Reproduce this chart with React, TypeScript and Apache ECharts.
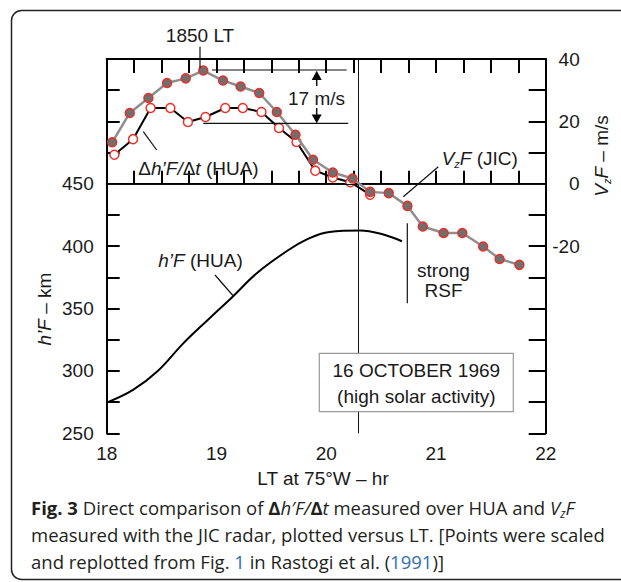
import React, { useEffect, useRef } from 'react';
import * as echarts from 'echarts';

// LT (hr) and V_zF (m/s) measured with the JIC radar
const jicTime = [18.05, 18.21, 18.38, 18.55, 18.72, 18.88, 19.06, 19.22, 19.39, 19.55, 19.72, 19.88, 20.06, 20.24, 20.40, 20.57, 20.74, 20.88, 21.07, 21.24, 21.43, 21.58, 21.76];
const jicVz = [13.3, 22.7, 27.5, 32.3, 33.8, 36.3, 33.1, 31.2, 29.1, 23.0, 15.7, 7.7, 3.6, 1.7, -2.6, -3.0, -7.1, -13.7, -15.8, -15.8, -20.1, -24.1, -26.0];
// LT (hr) and Δh'F/Δt (m/s) over HUA
const huaTime = [18.07, 18.24, 18.40, 18.58, 18.74, 18.90, 19.08, 19.24, 19.41, 19.57, 19.73, 19.90, 20.06, 20.22, 20.40];
const huaDhdt = [9.3, 14.3, 24.3, 24.3, 19.8, 21.4, 24.3, 24.3, 23.0, 17.9, 13.4, 4.2, 2.0, 0.5, -3.5];
// LT (hr) and h'F (km) over HUA
const hfTime = [18.0, 18.24, 18.46, 18.70, 18.94, 19.15, 19.37, 19.64, 19.82, 20.03, 20.31, 20.52, 20.69];
const hfKm = [274.6, 284.8, 299.5, 322.3, 342.4, 359.7, 378.5, 395.9, 405.3, 411.4, 412.5, 409.3, 403.9];

const xTickLabels = [18, 19, 20, 21, 22];
const leftTickLabels = [250, 300, 350, 400, 450];
const rightTickLabels = [-20, 0, 20, 40];
const refTime = 20.29;
const refVz = 0;

const FONT = 'Liberation Sans, Arial, sans-serif';
const CAP = 'Open Sans, Noto Sans, sans-serif';
const FS = 19;
const CFS = 18.5;

function zipXY(xs: number[], ys: number[]) {
  return xs.map((x, i) => [x, ys[i]]);
}

export default function App() {
  const ref = useRef<HTMLDivElement>(null);
  useEffect(() => {
    if (!ref.current) return;
    const chart = echarts.init(ref.current, undefined, { renderer: 'svg' });
    const axisLineStyle = { color: '#000', width: 2 };
    const tickStyle = { color: '#000', width: 2 };
    const lbl = { color: '#1a1a1a', fontSize: FS, fontFamily: FONT };
    const txt = (x: number, y: number, text: string, extra: any = {}) => ({
      type: 'text', x, y, z: 60,
      style: { text, fontSize: FS, fontFamily: FONT, fill: '#1a1a1a', align: 'center', verticalAlign: 'middle', ...extra },
    });
    const ln = (x1: number, y1: number, x2: number, y2: number, w = 1.2) => ({
      type: 'line', z: 60, shape: { x1, y1, x2, y2 }, style: { stroke: '#111', lineWidth: w },
    });
    const r = (size: number, extra: any = {}) => ({ fontSize: size, fontFamily: FONT, fill: '#1a1a1a', ...extra });
    const c = (size: number, extra: any = {}) => ({ fontSize: size, fontFamily: CAP, fill: '#231f20', lineHeight: 24, ...extra });
    const capRich = {
      n: c(CFS),
      b: c(CFS, { fontWeight: 'bold' }),
      i: c(CFS, { fontStyle: 'italic' }),
      s: c(12, { fontStyle: 'italic', verticalAlign: 'bottom', lineHeight: 17 }),
      l: c(CFS, { fill: '#2f6fb5' }),
    };

    chart.setOption({
      animation: false,
      grid: { left: 106.7, right: 75.3, top: 59, bottom: 148.7, containLabel: false },
      xAxis: [
        {
          type: 'value', min: 18, max: 22, interval: 0.25, position: 'bottom',
          axisLine: { lineStyle: axisLineStyle },
          axisTick: { inside: true, length: 13, lineStyle: tickStyle },
          axisLabel: {
            ...lbl, margin: 11, hideOverlap: false,
            formatter: (v: number) => (xTickLabels.includes(v) ? String(v) : ''),
          },
          splitLine: { show: false },
        },
        {
          type: 'value', min: 18, max: 22, interval: 0.25, position: 'top',
          axisLine: { lineStyle: axisLineStyle },
          axisTick: { inside: true, length: 14, lineStyle: tickStyle },
          axisLabel: { show: false },
          splitLine: { show: false },
        },
      ],
      yAxis: [
        {
          type: 'value', min: 250, max: 550, interval: 25, position: 'left',
          axisLine: { show: true, lineStyle: axisLineStyle },
          axisTick: { show: true, inside: true, length: 13, lineStyle: tickStyle },
          axisLabel: {
            ...lbl, margin: 13, hideOverlap: false,
            formatter: (v: number) => (leftTickLabels.includes(v) ? String(v) : ''),
          },
          splitLine: { show: false },
        },
        {
          type: 'value', min: -80, max: 40, interval: 10, position: 'right',
          axisLine: { show: true, lineStyle: axisLineStyle },
          axisTick: { show: true, inside: true, length: 17, lineStyle: tickStyle },
          axisLabel: {
            ...lbl, margin: 34, align: 'right', hideOverlap: false,
            formatter: (v: number) => (rightTickLabels.includes(v) ? String(v) : ''),
          },
          splitLine: { show: false },
        },
      ],
      series: [
        {
          name: "h'F (HUA)", type: 'line', xAxisIndex: 0, yAxisIndex: 0,
          data: zipXY(hfTime, hfKm), smooth: 0.4, showSymbol: false, symbol: 'none',
          lineStyle: { color: '#000', width: 2 }, z: 3,
        },
        {
          name: "Δh'F/Δt (HUA)", type: 'line', xAxisIndex: 0, yAxisIndex: 1,
          data: zipXY(huaTime, huaDhdt), symbol: 'circle', symbolSize: 9,
          itemStyle: { color: '#fff', borderColor: '#e8302a', borderWidth: 1.5 },
          lineStyle: { color: '#000', width: 2 }, z: 4,
          markLine: {
            silent: true, symbol: 'none', label: { show: false },
            lineStyle: { color: '#111', width: 1, type: 'solid' },
            data: [{ xAxis: refTime }, { yAxis: refVz }],
          },
        },
        {
          name: 'VzF (JIC)', type: 'line', xAxisIndex: 0, yAxisIndex: 1,
          data: zipXY(jicTime, jicVz), symbol: 'circle', symbolSize: 9,
          itemStyle: { color: '#6f6f6f', borderColor: '#e8302a', borderWidth: 1.5 },
          lineStyle: { color: '#8e8e8e', width: 2.5 }, z: 5,
        },
      ],
      graphic: [
        // outer frame
        { type: 'rect', z: 1, shape: { x: 11.5, y: 10.5, width: 700, height: 569, r: 10 }, style: { fill: 'none', stroke: '#222', lineWidth: 1.5 } },
        // 1850 LT
        txt(200, 35, '1850 LT'),
        ln(200, 46.7, 200, 68.3),
        // 17 m/s bracket
        ln(212, 70, 346.7, 70),
        ln(203.3, 123.3, 348.3, 123.3),
        { type: 'polygon', z: 60, shape: { points: [[316.7, 70.7], [311.7, 80], [321.7, 80]] }, style: { fill: '#000' } },
        ln(316.7, 80, 316.7, 86, 1.5),
        { type: 'polygon', z: 60, shape: { points: [[316.7, 123.3], [311.7, 114.5], [321.7, 114.5]] }, style: { fill: '#000' } },
        ln(316.7, 108, 316.7, 115, 1.5),
        txt(316.5, 98.3, '17 m/s'),
        // Δh'F/Δt (HUA)
        {
          type: 'text', x: 138.3, y: 168.3, z: 60,
          style: {
            text: '{n|Δ}{i|h’F/}{n|Δ}{i|t}{n| (HUA)}', align: 'left', verticalAlign: 'middle',
            fontSize: FS, fontFamily: FONT,
            rich: { n: r(FS), i: r(FS, { fontStyle: 'italic' }) },
          },
        },
        ln(143.3, 131.7, 156.7, 150),
        // VzF (JIC)
        {
          type: 'text', x: 441.7, y: 158.3, z: 60,
          style: {
            text: '{i|V}{s|z}{i|F}{n| (JIC)}', align: 'left', verticalAlign: 'middle',
            fontSize: FS, fontFamily: FONT,
            rich: {
              n: r(FS, { lineHeight: 22 }), i: r(FS, { fontStyle: 'italic', lineHeight: 22 }),
              s: r(11, { fontStyle: 'italic', verticalAlign: 'bottom', lineHeight: 15 }),
            },
          },
        },
        ln(438.3, 166.7, 403.3, 196.7),
        // h'F (HUA)
        {
          type: 'text', x: 158.3, y: 260, z: 60,
          style: {
            text: '{i|h’F}{n| (HUA)}', align: 'left', verticalAlign: 'middle',
            fontSize: FS, fontFamily: FONT,
            rich: { n: r(FS), i: r(FS, { fontStyle: 'italic' }) },
          },
        },
        ln(215, 275, 233.3, 296),
        // strong RSF
        ln(407.3, 223.3, 407.3, 303.3),
        txt(443.5, 270.7, 'strong'),
        txt(443.5, 290.7, 'RSF'),
        // date box
        { type: 'rect', z: 100, shape: { x: 319.3, y: 353.3, width: 194, height: 58.4 }, style: { fill: '#fff', stroke: '#999', lineWidth: 1.2 } },
        { ...txt(416.3, 370.7, '16 OCTOBER 1969'), z: 101 },
        { ...txt(416.3, 396.7, '(high solar activity)'), z: 101 },
        // axis titles
        txt(323, 478, 'LT at 75°W – hr'),
        {
          type: 'text', x: 44, y: 309, rotation: Math.PI / 2, z: 60,
          style: {
            text: '{i|h’F}{n| – km}', align: 'center', verticalAlign: 'middle',
            fontSize: FS, fontFamily: FONT,
            rich: { n: r(FS), i: r(FS, { fontStyle: 'italic' }) },
          },
        },
        {
          type: 'text', x: 601, y: 156, rotation: Math.PI / 2, z: 60,
          style: {
            text: '{i|V}{s|z}{i|F}{n| – m/s}', align: 'center', verticalAlign: 'middle',
            fontSize: FS, fontFamily: FONT,
            rich: {
              n: r(FS, { lineHeight: 22 }), i: r(FS, { fontStyle: 'italic', lineHeight: 22 }),
              s: r(11, { fontStyle: 'italic', verticalAlign: 'bottom', lineHeight: 15 }),
            },
          },
        },
        // caption
        {
          type: 'text', x: 31, y: 507, z: 60,
          style: {
            text: '{b|Fig. 3}{n| Direct comparison of }{b|Δ}{i|h′F/}{b|Δ}{i|t}{n| measured over HUA and }{i|V}{s|z}{i|F}',
            align: 'left', verticalAlign: 'middle', fontSize: CFS, fontFamily: CAP, rich: capRich,
          },
        },
        {
          type: 'text', x: 31, y: 534.5, z: 60,
          style: {
            text: '{n|measured with the JIC radar, plotted versus LT. [Points were scaled}',
            align: 'left', verticalAlign: 'middle', fontSize: CFS, fontFamily: CAP, rich: capRich,
          },
        },
        {
          type: 'text', x: 31, y: 561.5, z: 60,
          style: {
            text: '{n|and replotted from Fig. }{l|1}{n| in Rastogi et al. (}{l|1991}{n|)]}',
            align: 'left', verticalAlign: 'middle', fontSize: CFS, fontFamily: CAP, rich: capRich,
          },
        },
      ],
    });
    return () => chart.dispose();
  }, []);
  return <div ref={ref} style={{ position: 'fixed', left: 0, top: 0, width: 621, height: 582, background: '#fff' }} />;
}
